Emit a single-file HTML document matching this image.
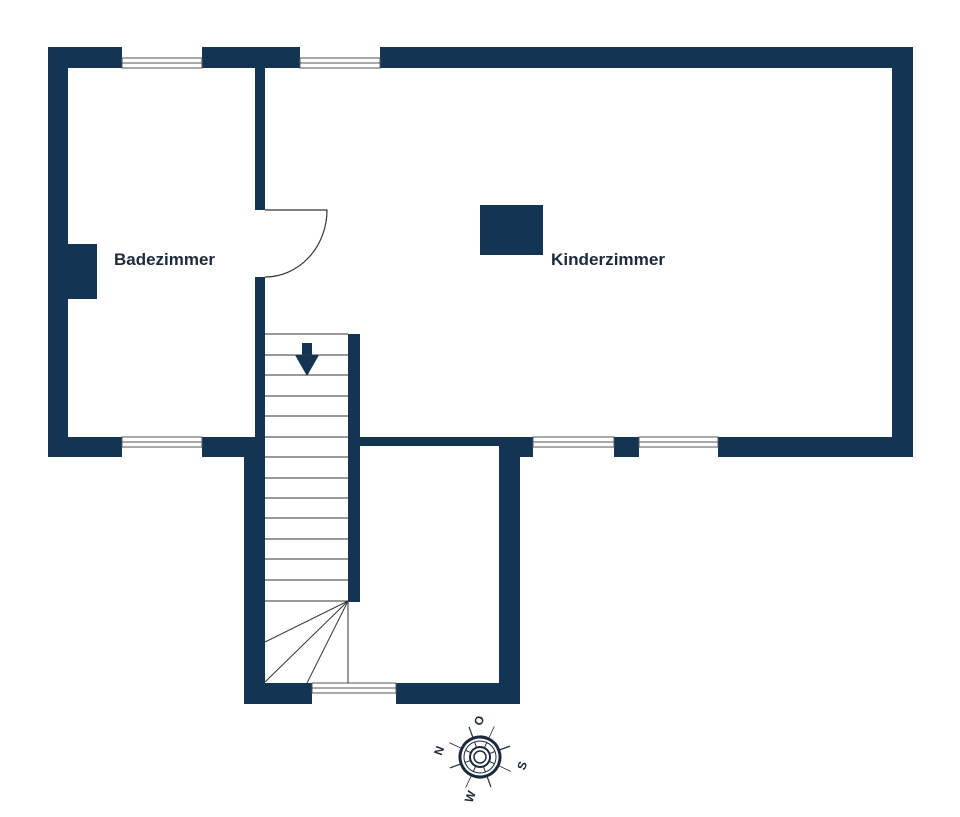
<!DOCTYPE html>
<html><head><meta charset="utf-8"><style>
html,body{margin:0;padding:0;background:#fff;}
svg{display:block;}
text{font-family:"Liberation Sans",sans-serif;}
</style></head><body>
<svg width="960" height="817" viewBox="0 0 960 817" xmlns="http://www.w3.org/2000/svg">
<g fill="#133553">
<rect x="48" y="47" width="74" height="21"/>
<rect x="202" y="47" width="98" height="21"/>
<rect x="380" y="47" width="533" height="21"/>
<rect x="48" y="47" width="20" height="410"/>
<rect x="892" y="47" width="21" height="410"/>
<rect x="48" y="437" width="74" height="20"/>
<rect x="202" y="437" width="63" height="20"/>
<rect x="255" y="68" width="10" height="142"/>
<rect x="255" y="277" width="10" height="160"/>
<rect x="244" y="437" width="21" height="267"/>
<rect x="348" y="334" width="12" height="268"/>
<rect x="348" y="437" width="152" height="9"/>
<rect x="500" y="437" width="33" height="20"/>
<rect x="614" y="437" width="25" height="20"/>
<rect x="718" y="437" width="195" height="20"/>
<rect x="499" y="446" width="21" height="258"/>
<rect x="244" y="683" width="68" height="21"/>
<rect x="396" y="683" width="124" height="21"/>
<rect x="68" y="244" width="29" height="55"/>
<rect x="480" y="205" width="63" height="50"/>
<rect x="302" y="343" width="10" height="14"/>
<polygon points="295,355 319,355 307,376"/>
</g>
<g fill="none" stroke="#555" stroke-width="1">
<rect x="122" y="58" width="80" height="10"/><line x1="122" y1="63" x2="202" y2="63"/>
<rect x="300" y="58" width="80" height="10"/><line x1="300" y1="63" x2="380" y2="63"/>
<rect x="122" y="437" width="80" height="10"/><line x1="122" y1="442" x2="202" y2="442"/>
<rect x="533" y="437" width="81" height="10"/><line x1="533" y1="442" x2="614" y2="442"/>
<rect x="639" y="437" width="79" height="10"/><line x1="639" y1="442" x2="718" y2="442"/>
<rect x="312" y="683" width="84" height="10"/><line x1="312" y1="688" x2="396" y2="688"/>
</g>
<g fill="none" stroke="#333" stroke-width="1.2">
<path d="M265 210 H327 A62 67 0 0 1 265 277"/>
</g>
<g stroke="#333" stroke-width="1">
<line x1="265" y1="334" x2="348" y2="334"/>
<line x1="265" y1="355" x2="348" y2="355"/>
<line x1="265" y1="375" x2="348" y2="375"/>
<line x1="265" y1="396" x2="348" y2="396"/>
<line x1="265" y1="416" x2="348" y2="416"/>
<line x1="265" y1="437" x2="348" y2="437"/>
<line x1="265" y1="457" x2="348" y2="457"/>
<line x1="265" y1="478" x2="348" y2="478"/>
<line x1="265" y1="498" x2="348" y2="498"/>
<line x1="265" y1="518" x2="348" y2="518"/>
<line x1="265" y1="539" x2="348" y2="539"/>
<line x1="265" y1="559" x2="348" y2="559"/>
<line x1="265" y1="580" x2="348" y2="580"/>
<line x1="265" y1="601" x2="348" y2="601"/>
<line x1="348" y1="601" x2="265" y2="642"/>
<line x1="348" y1="601" x2="265" y2="682"/>
<line x1="348" y1="601" x2="307" y2="683"/>
<line x1="348" y1="601" x2="348" y2="683"/>
</g>
<text x="114" y="265" font-size="16.5" font-weight="bold" fill="#1c2a3a" textLength="101" lengthAdjust="spacingAndGlyphs">Badezimmer</text>
<text x="551" y="265" font-size="16.5" font-weight="bold" fill="#1c2a3a" textLength="114" lengthAdjust="spacingAndGlyphs">Kinderzimmer</text>
<g transform="translate(480,757) rotate(-20)" stroke="#1c2a3a" fill="none">
<line x1="0" y1="-32" x2="0" y2="32" stroke-width="1.2"/>
<line x1="-32" y1="0" x2="32" y2="0" stroke-width="1.2"/>
<line x1="-24" y1="-24" x2="24" y2="24" stroke-width="0.8"/>
<line x1="-24" y1="24" x2="24" y2="-24" stroke-width="0.8"/>
<circle r="20" fill="#fff" stroke-width="3"/>
<circle r="16" stroke-width="1"/>
<circle r="10" stroke-width="2"/>
<circle r="6" stroke-width="1.5"/>
<g stroke-width="1"><line x1="0" y1="-10" x2="0" y2="-16"/><line x1="0" y1="10" x2="0" y2="16"/><line x1="-10" y1="0" x2="-16" y2="0"/><line x1="10" y1="0" x2="16" y2="0"/><line x1="7" y1="7" x2="11" y2="11"/><line x1="-7" y1="7" x2="-11" y2="11"/><line x1="7" y1="-7" x2="11" y2="-11"/><line x1="-7" y1="-7" x2="-11" y2="-11"/></g>
</g>
<g font-size="12" font-weight="bold" fill="#1c2a3a">
<text transform="translate(483,722) rotate(-70)" text-anchor="middle">O</text>
<text transform="translate(526,767) rotate(-70)" text-anchor="middle">S</text>
<text transform="translate(474,798) rotate(-70)" text-anchor="middle">W</text>
<text transform="translate(443,752) rotate(-70)" text-anchor="middle">N</text>
</g>
</svg>
</body></html>
